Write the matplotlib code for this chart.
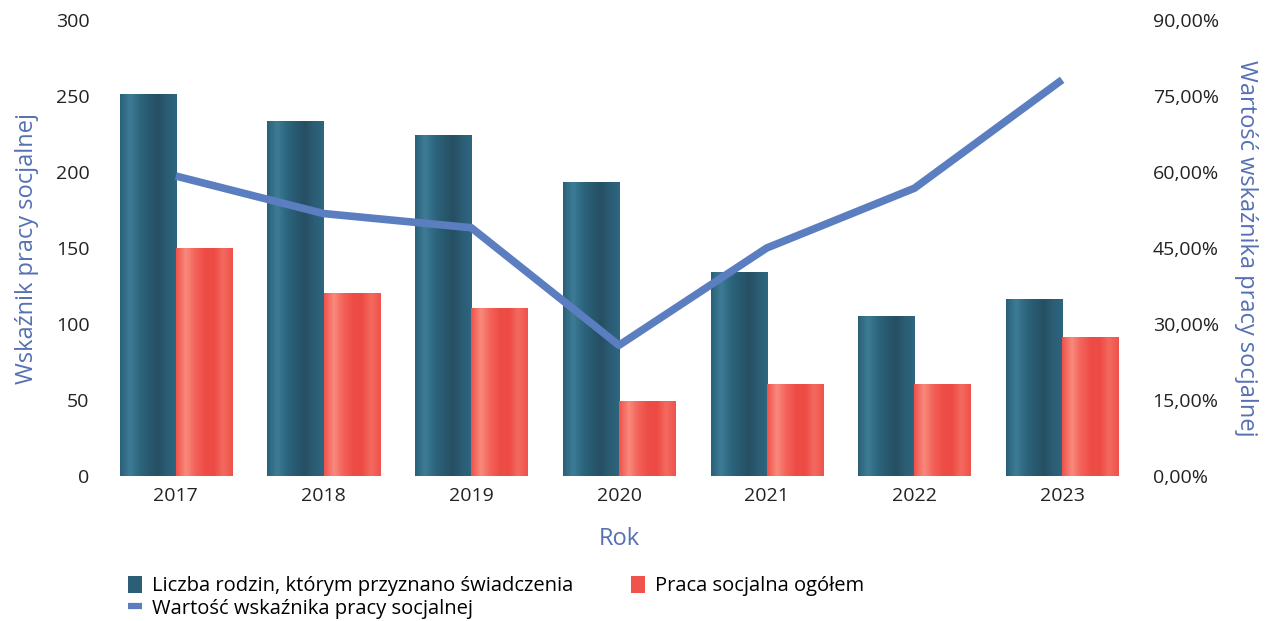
import numpy as np
import matplotlib
matplotlib.use('Agg')
import matplotlib.pyplot as plt
from matplotlib.colors import LinearSegmentedColormap
from matplotlib.lines import Line2D
from matplotlib.patches import Patch
from matplotlib.ticker import FuncFormatter

plt.rcParams['font.family'] = ['Open Sans', 'DejaVu Sans']

# data
years = ['2017', '2018', '2019', '2020', '2021', '2022', '2023']
rodziny = [251, 233, 224, 193, 134, 105, 116]
praca = [150, 120, 110, 49, 60, 60, 91]
wskaznik = [59.2, 51.8, 49.0, 25.8, 45.0, 56.8, 78.2]

label_rodziny = 'Liczba rodzin, którym przyznano świadczenia'
label_praca = 'Praca socjalna ogółem'
label_wskaznik = 'Wartość wskaźnika pracy socjalnej'

# colours
dark = '#2c5f76'
red = '#f0534c'
line_col = '#5b7ec0'
label_col = '#5670b4'

# soft horizontal shading like the rounded bars in the scan
dark_cmap = LinearSegmentedColormap.from_list(
    'dark', ['#2a6079', '#3e7c95', '#2e6780', '#285a70', '#264f63', '#2b5d74', '#2e6580'])
red_cmap = LinearSegmentedColormap.from_list(
    'red', ['#f0524b', '#f88a7c', '#f3635a', '#ee4d47', '#ed4a44', '#f36a60', '#f0524b'])

fig = plt.figure(figsize=(12.76, 6.21), dpi=100)
ax = fig.add_axes([102 / 1276, 1 - 476 / 621, (1136 - 102) / 1276, (476 - 20) / 621])

x = np.arange(len(years))
w = 0.38
bars1 = ax.bar(x - w / 2, rodziny, w, color=dark, zorder=2)
bars2 = ax.bar(x + w / 2, praca, w, color=red, zorder=2)

grad = np.linspace(0, 1, 64).reshape(1, -1)
for bars, cmap in [(bars1, dark_cmap), (bars2, red_cmap)]:
    for b in bars:
        b.set_alpha(0)
        x0, wd, h = b.get_x(), b.get_width(), b.get_height()
        ax.imshow(grad, cmap=cmap, aspect='auto', extent=(x0, x0 + wd, 0, h),
                  zorder=2, interpolation='bicubic')

ax.set_xlim(-0.5, len(years) - 0.5)
ax.set_ylim(0, 300)
ax.set_yticks(range(0, 301, 50))
ax.set_xticks(x)
ax.set_xticklabels(years)
ax.tick_params(length=0, labelsize=14, colors='#222222', pad=8)
ax.tick_params(axis='y', pad=9)
for s in ax.spines.values():
    s.set_visible(False)
ax.set_ylabel('Wskaźnik pracy socjalnej', fontsize=17, color=label_col, labelpad=12)
ax.set_xlabel('Rok', fontsize=17, color=label_col, labelpad=16)

ax2 = ax.twinx()
ax2.plot(x, wskaznik, color=line_col, linewidth=5.5, solid_capstyle='butt', zorder=3)
ax2.set_ylim(0, 90)
ax2.set_yticks(range(0, 91, 15))
ax2.yaxis.set_major_formatter(FuncFormatter(lambda v, p: f'{v:.2f}%'.replace('.', ',')))
ax2.tick_params(length=0, labelsize=14, colors='#222222', pad=12)
for s in ax2.spines.values():
    s.set_visible(False)
ax2.set_ylabel(label_wskaznik, fontsize=17, color=label_col, rotation=270, labelpad=28)

handles = [Patch(facecolor=dark, label=label_rodziny),
           Line2D([], [], color=line_col, linewidth=4.5, solid_capstyle='butt',
                  label=label_wskaznik),
           Patch(facecolor=red, label=label_praca)]
fig.legend(handles=handles, loc='upper left', bbox_to_anchor=(110 / 1276, 1 - 558 / 621),
           ncol=2, frameon=False, fontsize=14.5, handlelength=0.7, handleheight=0.9,
           handletextpad=0.5, columnspacing=2.85, labelspacing=0.1)

fig.savefig('out.png', dpi=100)
